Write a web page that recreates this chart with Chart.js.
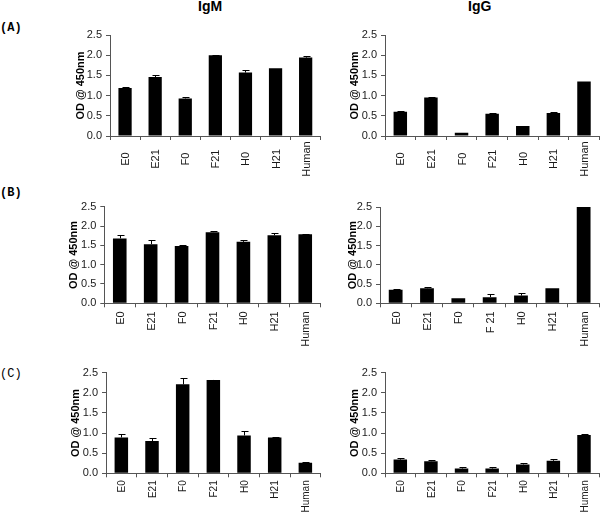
<!DOCTYPE html>
<html><head><meta charset="utf-8">
<script src="https://cdn.jsdelivr.net/npm/chart.js@4.4.1/dist/chart.umd.min.js"></script>
<style>
html,body{margin:0;padding:0;background:#fff;width:600px;height:516px;overflow:hidden;position:relative}
canvas{position:absolute}
.t{position:absolute;font:bold 14px "Liberation Sans",Arial,sans-serif;color:#000;line-height:14px;white-space:nowrap}
.p{position:absolute;font:bold 12px "Liberation Mono","Courier New",monospace;color:#000;line-height:12px;white-space:nowrap}
</style></head><body>
<div class="t" style="left:198px;top:-1px">IgM</div>
<div class="t" style="left:468px;top:-1px">IgG</div>
<div class="p" style="left:0px;top:22px">(A)</div>
<div class="p" style="left:0px;top:187px">(B)</div>
<div class="p" style="left:0px;top:368px;font-weight:normal">(C)</div>
<canvas id="aL"></canvas><canvas id="aR"></canvas>
<canvas id="bL"></canvas><canvas id="bR"></canvas>
<canvas id="cL"></canvas><canvas id="cR"></canvas>
<script>
// ---- data ----
const categories = ['E0','E21','F0','F21','H0','H21','Human'];
const categoriesBIgG = ['E0','E21','F0','F 21','H0','H21','Human'];
const yAxisTitle = 'OD @ 450nm';

const igmA    = [1.19, 1.46, 0.93, 2.00, 1.57, 1.68, 1.94];
const igmAErr = [0.02, 0.05, 0.04, 0.01, 0.07, 0.00, 0.05];
const iggA    = [0.60, 0.95, 0.08, 0.55, 0.25, 0.57, 1.35];
const iggAErr = [0.01, 0.01, 0.00, 0.03, 0.00, 0.02, 0.00];

const igmB    = [1.68, 1.53, 1.48, 1.84, 1.59, 1.76, 1.79];
const igmBErr = [0.09, 0.11, 0.02, 0.02, 0.05, 0.05, 0.01];
const iggB    = [0.35, 0.39, 0.13, 0.16, 0.20, 0.39, 2.51];
const iggBErr = [0.01, 0.03, 0.00, 0.08, 0.06, 0.00, 0.00];

const igmC    = [0.89, 0.80, 2.21, 2.32, 0.94, 0.89, 0.26];
const igmCErr = [0.09, 0.07, 0.17, 0.01, 0.10, 0.01, 0.01];
const iggC    = [0.34, 0.30, 0.12, 0.12, 0.22, 0.31, 0.95];
const iggCErr = [0.05, 0.04, 0.03, 0.03, 0.04, 0.04, 0.03];

// ---- layout ----
const FONT = '"Liberation Sans", Arial, sans-serif';
const TITLE_HALF = 11*1.2/2;
const panels = [
 {id:'aL', labels:categories,     values:igmA, errors:igmAErr, box:[0,20,330,170],   axisX:110,   top:35,    bottom:136,   right:320.7, titleX:81,    mode:'center', off:23, fs:11},
 {id:'aR', labels:categories,     values:iggA, errors:iggAErr, box:[330,20,270,170], axisX:385,   top:35,    bottom:136,   right:599.3, titleX:355,   mode:'center', off:23, fs:11},
 {id:'bL', labels:categories,     values:igmB, errors:igmBErr, box:[0,190,330,160],  axisX:104.3, top:206.7, bottom:303.3, right:320.7, titleX:74,    mode:'top', off:8, fs:11},
 {id:'bR', labels:categoriesBIgG, values:iggB, errors:iggBErr, box:[330,190,270,160],axisX:380,   top:207,   bottom:303.3, right:599.3, titleX:352.5, mode:'top', off:8, fs:11},
 {id:'cL', labels:categories,     values:igmC, errors:igmCErr, box:[0,350,330,166],  axisX:106,   top:372.7, bottom:473.3, right:320.7, titleX:76,    mode:'top', off:7, fs:10},
 {id:'cR', labels:categories,     values:iggC, errors:iggCErr, box:[330,350,270,166],axisX:385,   top:372.7, bottom:473.3, right:599.3, titleX:355,   mode:'top', off:7, fs:10}
];

const overlay = {
  id:'overlay',
  afterDatasetsDraw(chart, args, opts){
    const ctx = chart.ctx, ys = chart.scales.y, ds = chart.data.datasets[0];
    const meta = chart.getDatasetMeta(0);
    ctx.save(); ctx.strokeStyle = '#000'; ctx.lineWidth = 1;
    meta.data.forEach((bar, i) => {
      const e = ds.errors[i]; if (!e) return;
      const yt = Math.round(ys.getPixelForValue(ds.data[i] + e)) + 0.5;
      const x = Math.round(bar.x) + 0.5;
      ctx.beginPath();
      ctx.moveTo(x, bar.y); ctx.lineTo(x, yt);
      ctx.moveTo(x - 3, yt); ctx.lineTo(x + 4, yt);
      ctx.stroke();
    });
    ctx.restore();
  },
  afterDraw(chart, args, opts){
    const ctx = chart.ctx, xs = chart.scales.x;
    ctx.save();
    ctx.font = opts.fs + 'px ' + FONT; ctx.fillStyle = '#1a1a1a';
    ctx.textBaseline = 'middle';
    chart.data.labels.forEach((lab, i) => {
      const x = xs.getPixelForValue(i) + 1;
      ctx.save();
      ctx.translate(x, xs.top + opts.off);
      ctx.textAlign = opts.mode === 'center' ? 'center' : 'right';
      ctx.rotate(-Math.PI/2);
      ctx.fillText(lab, 0, 0);
      ctx.restore();
    });
    ctx.restore();
  }
};

panels.forEach(p => {
  const [cx, cy, cw, ch] = p.box;
  const cv = document.getElementById(p.id);
  cv.width = cw; cv.height = ch;
  cv.style.left = cx + 'px'; cv.style.top = cy + 'px';
  cv.style.width = cw + 'px'; cv.style.height = ch + 'px';
  const scaleLeft = p.titleX - TITLE_HALF;
  const yW = p.axisX - scaleLeft;
  const xH = cy + ch - p.bottom;
  new Chart(cv, {
    type: 'bar',
    data: { labels: p.labels, datasets: [{ data: p.values, errors: p.errors, backgroundColor: '#000', borderWidth: 0, barPercentage: 0.44, categoryPercentage: 1.0 }] },
    options: {
      responsive: false, animation: false, devicePixelRatio: 1, events: [],
      layout: { padding: { left: scaleLeft - cx, top: p.top - cy, right: cx + cw - p.right, bottom: 0 } },
      plugins: { legend: { display: false }, tooltip: { enabled: false }, overlay: { mode: p.mode, off: p.off, fs: p.fs } },
      scales: {
        x: {
          afterFit: s => { s.height = xH; },
          ticks: { display: false },
          grid: { drawOnChartArea: false, tickLength: 4, color: '#555', offset: true },
          border: { color: '#555' }
        },
        y: {
          min: 0, max: 2.5,
          afterFit: s => { s.width = yW; },
          ticks: { stepSize: 0.5, callback: v => Number(v).toFixed(1), font: { size: 11, family: FONT }, color: '#1a1a1a', padding: 4 },
          grid: { drawOnChartArea: false, tickLength: 4, color: '#555' },
          border: { color: '#555' },
          title: { display: true, text: yAxisTitle, font: { size: 11, weight: 'bold', family: FONT }, color: '#000', padding: 0 }
        }
      }
    },
    plugins: [overlay]
  });
});
</script>
</body></html>
